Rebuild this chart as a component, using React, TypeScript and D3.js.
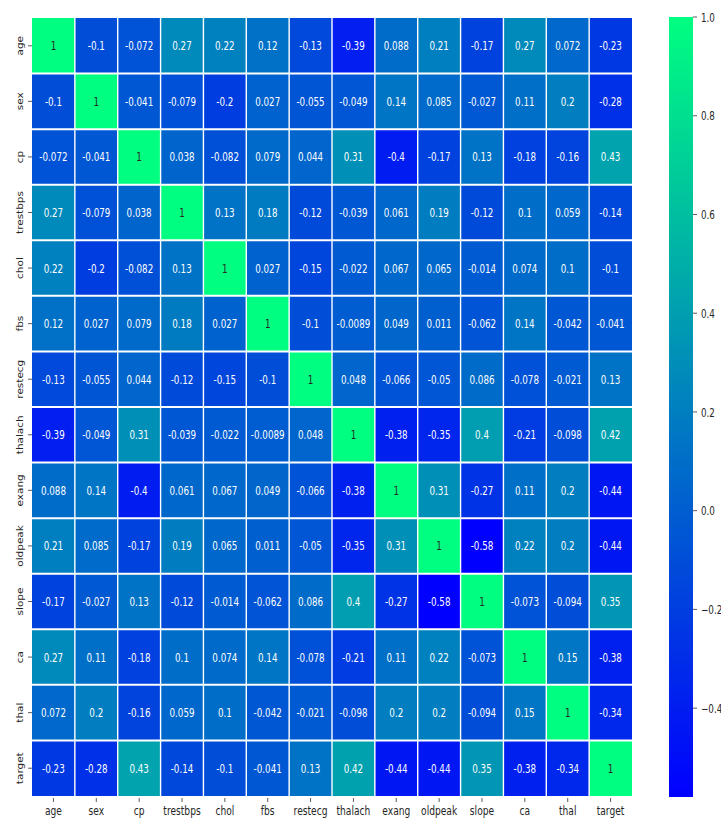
import React from "react";
import * as d3 from "d3";

const labels = ["age", "sex", "cp", "trestbps", "chol", "fbs", "restecg", "thalach", "exang", "oldpeak", "slope", "ca", "thal", "target"];

const rowAge = [1, -0.1, -0.072, 0.27, 0.22, 0.12, -0.13, -0.39, 0.088, 0.21, -0.17, 0.27, 0.072, -0.23];
const rowSex = [-0.1, 1, -0.041, -0.079, -0.2, 0.027, -0.055, -0.049, 0.14, 0.085, -0.027, 0.11, 0.2, -0.28];
const rowCp = [-0.072, -0.041, 1, 0.038, -0.082, 0.079, 0.044, 0.31, -0.4, -0.17, 0.13, -0.18, -0.16, 0.43];
const rowTrestbps = [0.27, -0.079, 0.038, 1, 0.13, 0.18, -0.12, -0.039, 0.061, 0.19, -0.12, 0.1, 0.059, -0.14];
const rowChol = [0.22, -0.2, -0.082, 0.13, 1, 0.027, -0.15, -0.022, 0.067, 0.065, -0.014, 0.074, 0.1, -0.1];
const rowFbs = [0.12, 0.027, 0.079, 0.18, 0.027, 1, -0.1, -0.0089, 0.049, 0.011, -0.062, 0.14, -0.042, -0.041];
const rowRestecg = [-0.13, -0.055, 0.044, -0.12, -0.15, -0.1, 1, 0.048, -0.066, -0.05, 0.086, -0.078, -0.021, 0.13];
const rowThalach = [-0.39, -0.049, 0.31, -0.039, -0.022, -0.0089, 0.048, 1, -0.38, -0.35, 0.4, -0.21, -0.098, 0.42];
const rowExang = [0.088, 0.14, -0.4, 0.061, 0.067, 0.049, -0.066, -0.38, 1, 0.31, -0.27, 0.11, 0.2, -0.44];
const rowOldpeak = [0.21, 0.085, -0.17, 0.19, 0.065, 0.011, -0.05, -0.35, 0.31, 1, -0.58, 0.22, 0.2, -0.44];
const rowSlope = [-0.17, -0.027, 0.13, -0.12, -0.014, -0.062, 0.086, 0.4, -0.27, -0.58, 1, -0.073, -0.094, 0.35];
const rowCa = [0.27, 0.11, -0.18, 0.1, 0.074, 0.14, -0.078, -0.21, 0.11, 0.22, -0.073, 1, 0.15, -0.38];
const rowThal = [0.072, 0.2, -0.16, 0.059, 0.1, -0.042, -0.021, -0.098, 0.2, 0.2, -0.094, 0.15, 1, -0.34];
const rowTarget = [-0.23, -0.28, 0.43, -0.14, -0.1, -0.041, 0.13, 0.42, -0.44, -0.44, 0.35, -0.38, -0.34, 1];

const matrix = [rowAge, rowSex, rowCp, rowTrestbps, rowChol, rowFbs, rowRestecg, rowThalach, rowExang, rowOldpeak, rowSlope, rowCa, rowThal, rowTarget];

const colorbarTicks = [1.0, 0.8, 0.6, 0.4, 0.2, 0.0, -0.2, -0.4];

const W = 721;
const H = 821;
const FONT = "DejaVu Sans, sans-serif";
const SX = 0.73;

export default function App() {
  const vmin = d3.min(matrix.flat()) as number;
  const vmax = 1;
  const left = 32, right = 632, top = 18, bottom = 796;
  const x = d3.scaleBand<string>().domain(labels).range([left, right]);
  const y = d3.scaleBand<string>().domain(labels).range([top, bottom]);
  const color = d3.scaleLinear<string>().domain([vmin, vmax]).range(["#0000ff", "#00ff80"]).interpolate(d3.interpolateRgb);
  const cbX = 669, cbW = 24, cbTop = 17, cbBottom = 797;
  const cy = d3.scaleLinear().domain([vmin, vmax]).range([cbBottom, cbTop]);
  const fmt = d3.format(".1f");

  const lum = (c: string) => {
    const rgb = d3.rgb(c);
    const lin = (v: number) => {
      const s = v / 255;
      return s <= 0.03928 ? s / 12.92 : Math.pow((s + 0.055) / 1.055, 2.4);
    };
    return 0.2126 * lin(rgb.r) + 0.7152 * lin(rgb.g) + 0.0722 * lin(rgb.b);
  };

  return (
    <svg width={W} height={H} style={{ position: "absolute", left: 0, top: 0, background: "#fff" }} fontFamily={FONT}>
      <defs>
        <linearGradient id="cb" x1="0" y1="1" x2="0" y2="0">
          <stop offset="0%" stopColor={color(vmin)} />
          <stop offset="100%" stopColor={color(vmax)} />
        </linearGradient>
      </defs>
      {matrix.map((row, i) =>
        row.map((v, j) => {
          const c = color(v);
          const cx = (x(labels[j]) as number) + x.bandwidth() / 2;
          const cyy = (y(labels[i]) as number) + y.bandwidth() / 2;
          return (
            <g key={`${i}-${j}`}>
              <rect x={x(labels[j])} y={y(labels[i])} width={x.bandwidth()} height={y.bandwidth()} fill={c} />
              <text
                transform={`translate(${cx},${cyy}) scale(${SX},1)`}
                textAnchor="middle"
                dominantBaseline="central"
                fontSize={12}
                fill={lum(c) > 0.408 ? "#262626" : "#ffffff"}
              >
                {String(v)}
              </text>
            </g>
          );
        })
      )}
      {labels.slice(1).map((l) => (
        <line key={"h" + l} x1={left} x2={right} y1={y(l)} y2={y(l)} stroke="#fff" strokeWidth={2} />
      ))}
      {labels.slice(1).map((l) => (
        <line key={"v" + l} y1={top} y2={bottom} x1={x(l)} x2={x(l)} stroke="#fff" strokeWidth={1.4} />
      ))}
      {labels.map((l) => {
        const cx = (x(l) as number) + x.bandwidth() / 2;
        return (
          <g key={"xt" + l}>
            <line x1={cx} x2={cx} y1={bottom + 2} y2={bottom + 6} stroke="#333" strokeWidth={0.8} />
            <text transform={`translate(${cx},${815}) scale(${SX},1)`} textAnchor="middle" fontSize={12.5} fill="#262626">
              {l}
            </text>
          </g>
        );
      })}
      {labels.map((l) => {
        const cyy = (y(l) as number) + y.bandwidth() / 2;
        return (
          <g key={"yt" + l}>
            <line x1={left - 4} x2={left} y1={cyy} y2={cyy} stroke="#333" strokeWidth={0.8} />
            <text transform={`translate(${22.5},${cyy}) scale(0.9,1) rotate(-90)`} textAnchor="middle" fontSize={10.5} fill="#262626">
              {l}
            </text>
          </g>
        );
      })}
      <rect x={cbX} y={cbTop} width={cbW} height={cbBottom - cbTop} fill="url(#cb)" />
      {colorbarTicks.map((t) => (
        <g key={"cb" + t}>
          <line x1={cbX + cbW} x2={cbX + cbW + 4} y1={cy(t)} y2={cy(t)} stroke="#333" strokeWidth={0.8} />
          <text transform={`translate(${cbX + cbW + 8},${cy(t)}) scale(${SX},1)`} dominantBaseline="central" fontSize={12} fill="#262626">
            {fmt(t)}
          </text>
        </g>
      ))}
    </svg>
  );
}
